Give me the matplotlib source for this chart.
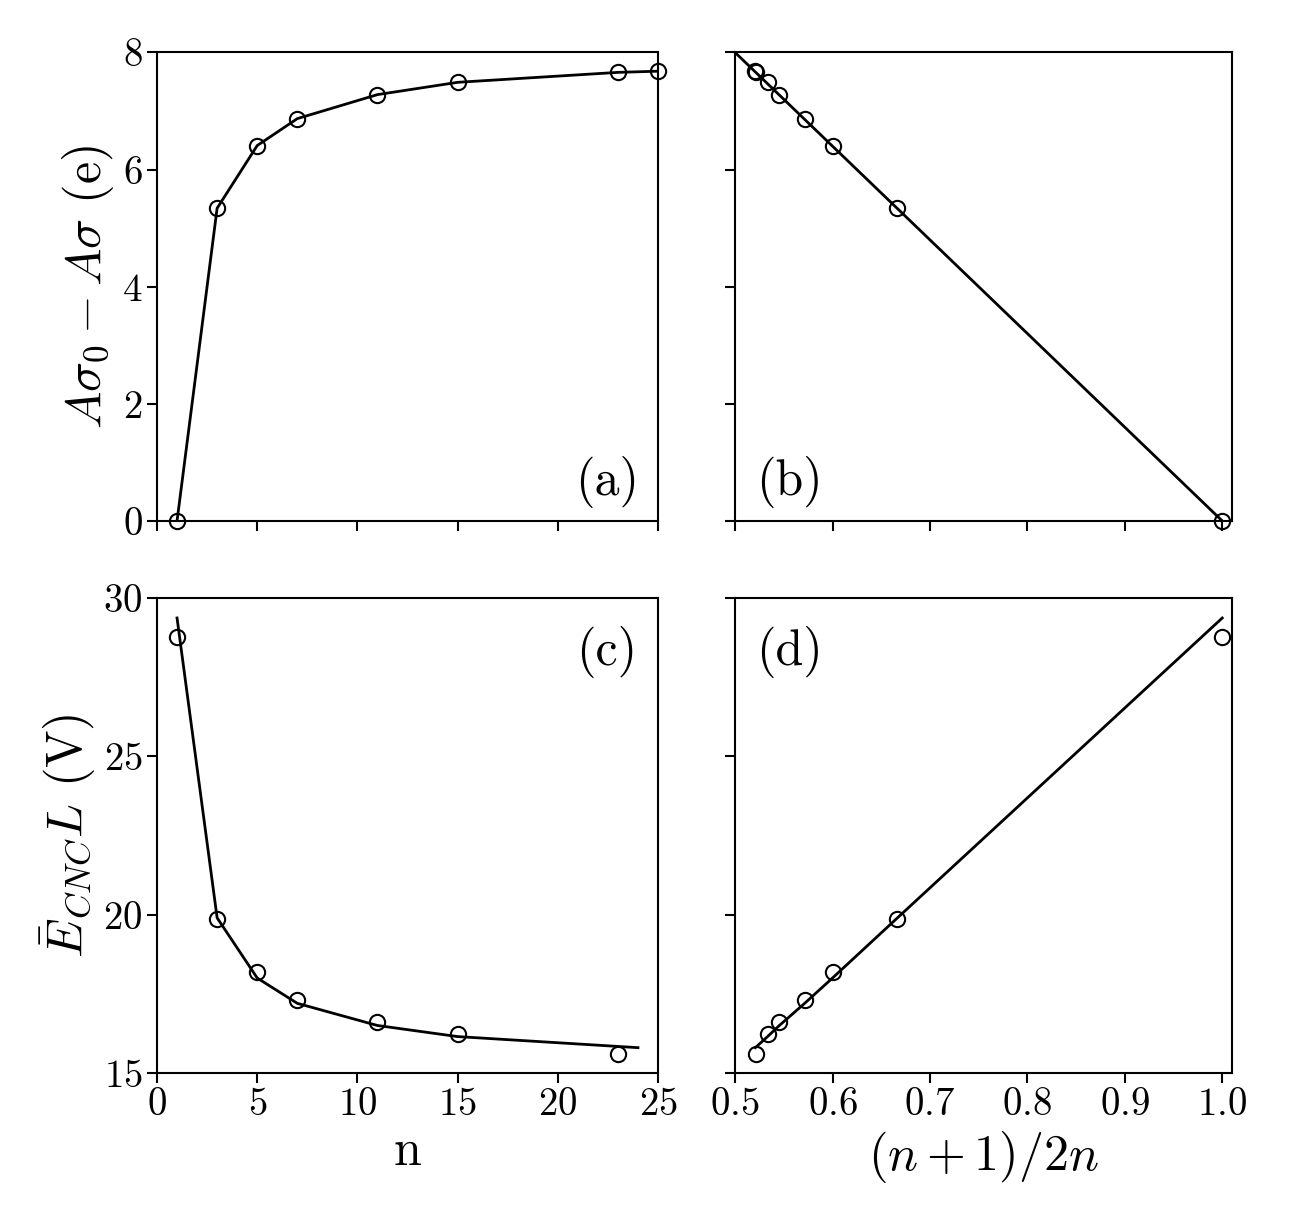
import numpy as np
import matplotlib
matplotlib.use("Agg")
import matplotlib.pyplot as plt

plt.rcParams['font.family'] = 'serif'
plt.rcParams['font.serif'] = ['cmr10']
plt.rcParams['mathtext.fontset'] = 'cm'
plt.rcParams['axes.formatter.use_mathtext'] = True
plt.rcParams['font.size'] = 28

# data
n_top = np.array([1, 3, 5, 7, 11, 15, 23, 25])
charge = np.array([0.0, 5.34, 6.41, 6.87, 7.28, 7.49, 7.66, 7.68])

n_bot = np.array([1, 3, 5, 7, 11, 15, 23])
field = np.array([28.77, 19.86, 18.19, 17.30, 16.61, 16.23, 15.60])

# fitted lines
fit_b_x = [0.5, 1.0]
fit_b_y = [8.0, 0.0]
fit_n = np.array([1, 3, 5, 7, 11, 15, 24])
fit_field = np.array([29.37, 19.9, 18.0, 17.2, 16.5, 16.15, 15.8])

x_top = (n_top + 1) / (2 * n_top)
x_bot = (n_bot + 1) / (2 * n_bot)
x_fit = (fit_n + 1) / (2 * fit_n)

fig = plt.figure(figsize=(13.04, 12.2), dpi=100)
ax_a = fig.add_axes([0.1204, 0.573, 0.3842, 0.384])
ax_b = fig.add_axes([0.5637, 0.573, 0.3811, 0.384])
ax_c = fig.add_axes([0.1204, 0.1205, 0.3842, 0.3893])
ax_d = fig.add_axes([0.5637, 0.1205, 0.3811, 0.3893])

mk = dict(marker='o', ms=11, mfc='none', mec='black', mew=1.5, ls='none')
lw = 2.0

ax_a.plot(n_top, charge, color='black', lw=lw)
ax_a.plot(n_top, charge, clip_on=False, **mk)

ax_b.plot(fit_b_x, fit_b_y, color='black', lw=lw)
ax_b.plot(x_top, charge, clip_on=False, **mk)

ax_c.plot(fit_n, fit_field, color='black', lw=lw)
ax_c.plot(n_bot, field, **mk)

ax_d.plot(x_fit, fit_field, color='black', lw=lw)
ax_d.plot(x_bot, field, **mk)

for ax in (ax_a, ax_c):
    ax.set_xlim(0, 25)
    ax.set_xticks([0, 5, 10, 15, 20, 25])
for ax in (ax_b, ax_d):
    ax.set_xlim(0.5, 1.01)
    ax.set_xticks([0.5, 0.6, 0.7, 0.8, 0.9, 1.0])
for ax in (ax_a, ax_b):
    ax.set_ylim(0, 8)
    ax.set_yticks([0, 2, 4, 6, 8])
    ax.tick_params(labelbottom=False)
for ax in (ax_c, ax_d):
    ax.set_ylim(15, 30)
    ax.set_yticks([15, 20, 25, 30])
for ax in (ax_b, ax_d):
    ax.tick_params(labelleft=False)

for ax in (ax_a, ax_b, ax_c, ax_d):
    ax.tick_params(direction='out', length=7, width=1.5)
    for s in ax.spines.values():
        s.set_linewidth(1.5)

ax_a.set_ylabel(r'$A\sigma_0 - A\sigma$ (e)', fontsize=36)
ax_c.set_ylabel(r'$\bar{E}_{CNC}L$ (V)', fontsize=36)
ax_c.set_xlabel('n', fontsize=36)
ax_d.set_xlabel(r'$(n+1)/2n$', fontsize=36)

ax_a.text(0.898, 0.083, '(a)', transform=ax_a.transAxes, fontsize=36, ha='center', va='center')
ax_b.text(0.11, 0.083, '(b)', transform=ax_b.transAxes, fontsize=36, ha='center', va='center')
ax_c.text(0.898, 0.886, '(c)', transform=ax_c.transAxes, fontsize=36, ha='center', va='center')
ax_d.text(0.11, 0.886, '(d)', transform=ax_d.transAxes, fontsize=36, ha='center', va='center')

fig.savefig('out.png', dpi=100)
